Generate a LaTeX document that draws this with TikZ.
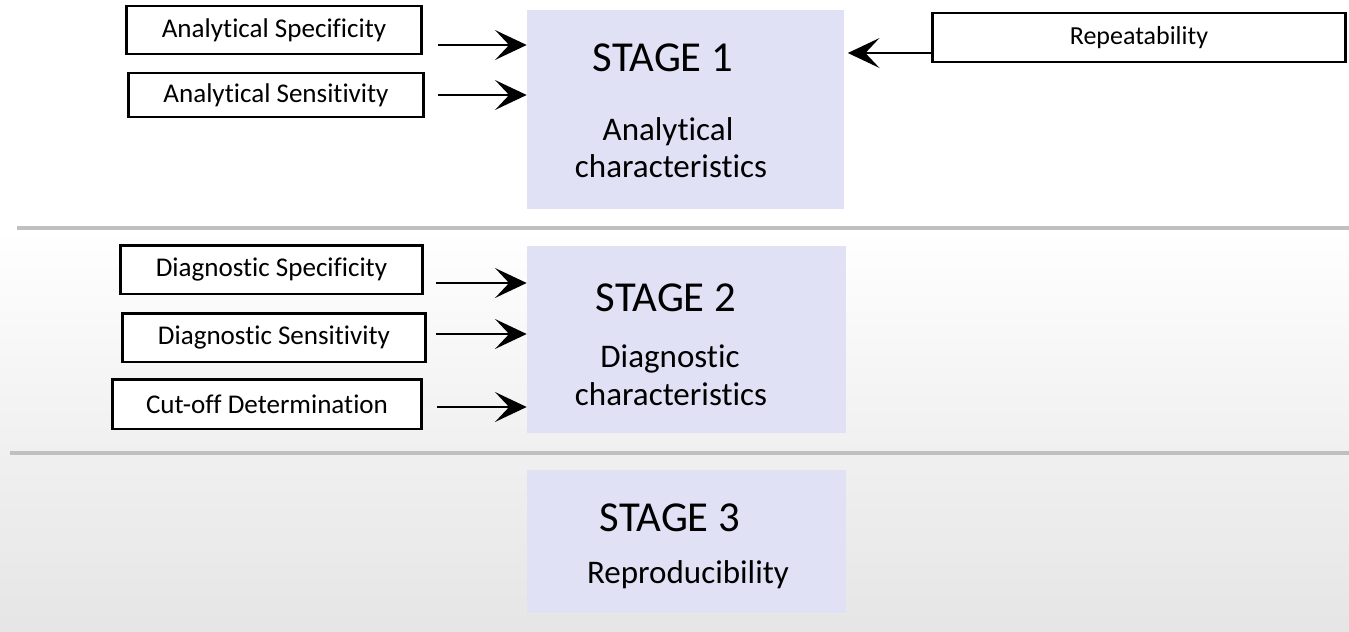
\documentclass[tikz,border=0pt]{standalone}
\usepackage{fontspec}
\setmainfont{Carlito}[Ligatures=NoCommon]
\usetikzlibrary{calc}
\usetikzlibrary{arrows.meta}

\definecolor{stagefill}{RGB}{225,225,245}
\definecolor{rulegray}{RGB}{192,192,192}

\tikzset{
 inbox/.style={draw=black, line width=1.7pt, fill=white, inner sep=0pt, font=\fontsize{15.4}{18}\selectfont},
 stagebox/.style={fill=stagefill, inner sep=0pt},
 stagetitle/.style={inner sep=0pt, font=\fontsize{24.3}{28}\selectfont},
 stagetext/.style={inner sep=0pt, anchor=base, font=\fontsize{18.8}{22}\selectfont},
 feed/.style={->, line width=1.1pt, >={Stealth[length=18pt,width=17pt,inset=8pt]}},
}

\begin{document}
\begin{tikzpicture}[x=0.02cm,y=-0.02cm]
\useasboundingbox (0,0) rectangle (1349,632);
\shade[top color=white, bottom color=white!94!black] (0,230) rectangle (1349,453);
\shade[top color=white!94!black, bottom color=white!90!black] (0,453) rectangle (1349,632);
\draw[rulegray, line width=2.2pt] (17,228) -- (1349,228);
\draw[rulegray, line width=2.2pt] (10,453) -- (1349,453);

\node[stagebox, minimum width=6.34cm, minimum height=3.98cm] (st1) at (685.5,109.5) {};
\node[stagebox, minimum width=6.38cm, minimum height=3.74cm] (st2) at (686.5,339.5) {};
\node[stagebox, minimum width=6.38cm, minimum height=2.86cm] (st3) at (686.5,541.5) {};

\node[stagetitle] (t1) at (663,58) {STAGE 1};
\node[stagetext] (t1a) at (668,140) {Analytical};
\node[stagetext] (t1b) at (671,177) {characteristics};
\node[stagetitle] (t2) at (666,298) {STAGE 2};
\node[stagetext] (t2a) at (670,367) {Diagnostic};
\node[stagetext] (t2b) at (671,405) {characteristics};
\node[stagetitle] (t3) at (670,518) {STAGE 3};
\node[stagetext] (t3a) at (688,583) {Reproducibility};

\node[inbox, minimum width=5.92cm, minimum height=0.96cm] (aspec) at (274,30) {Analytical Specificity};
\node[inbox, minimum width=5.92cm, minimum height=0.88cm] (asens) at (276,95) {Analytical Sensitivity};
\node[inbox, minimum width=6.06cm, minimum height=0.98cm] (dspec) at (271.5,269.5) {Diagnostic Specificity};
\node[inbox, minimum width=6.08cm, minimum height=0.98cm] (dsens) at (274,337.5) {Diagnostic Sensitivity};
\node[inbox, minimum width=6.20cm, minimum height=1.00cm] (cutoff) at (267,404) {Cut-off Determination};
\node[inbox, minimum width=8.28cm, minimum height=0.98cm, font=\fontsize{14.8}{17}\selectfont] (repeat) at (1139,37.5) {Repeatability};

\foreach \src/\dst/\dx/\dy in {aspec/st1/15/15, asens/st1/13/0, dspec/st2/12/13.5, dsens/st2/9/-3.5, cutoff/st2/14/3} {
 \coordinate (\src-out) at ($(\src.east)+(\dx,\dy)$);
 \draw[feed] (\src-out) -- (\src-out -| \dst.west);
}
\coordinate (repeat-out) at ($(repeat.west)+(0,15.5)$);
\draw[feed, shorten >=2pt] (repeat-out) -- (repeat-out -| st1.east);
\end{tikzpicture}
\end{document}
